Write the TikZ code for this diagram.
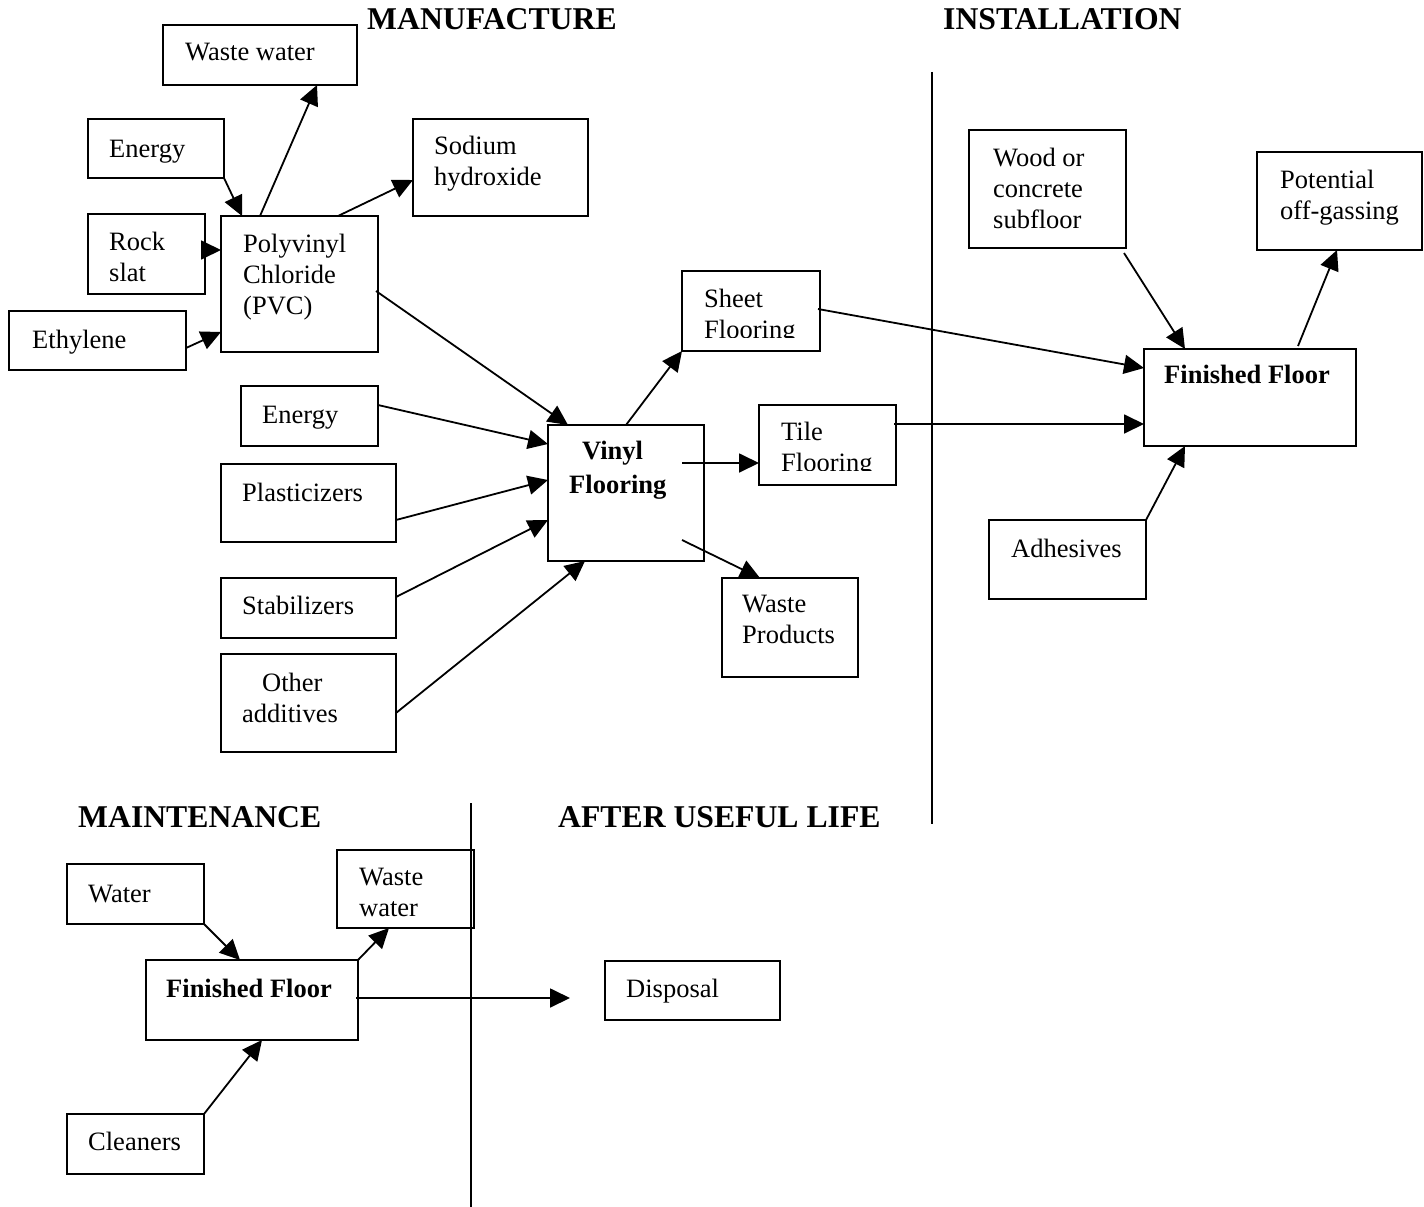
\documentclass[tikz,border=0pt]{standalone}
\usepackage{fontspec}
\setmainfont{Liberation Serif}
\usetikzlibrary{arrows.meta}
\newcommand\mybox[5]{\node[bx, minimum width={#4-#2}, minimum height={#5-#3}] (#1) at ({(#2+#4)/2},{(#3+#5)/2}) {};}
\begin{document}
\begin{tikzpicture}[x=1pt,y=-1pt,
  bx/.style={draw, line width=2pt, inner sep=0pt, outer sep=0pt},
  tx/.style={anchor=base west, inner sep=0pt, font=\fontsize{26.5}{31}\selectfont, align=left},
  btx/.style={tx, font=\fontsize{26.5}{34}\selectfont\bfseries},
  ttl/.style={anchor=base west, inner sep=0pt, font=\fontsize{31.7}{36}\selectfont\bfseries},
  arr/.style={line width=1.8pt, -{Triangle[length=20pt,width=19pt]}},
  sepline/.style={line width=1.8pt}]
\useasboundingbox (0,0) rectangle (1424,1207);

% titles
\node[ttl] (t-man) at (367,30) {MANUFACTURE};
\node[ttl] (t-ins) at (943,30) {INSTALLATION};
\node[ttl] (t-mai) at (78,827) {MAINTENANCE};
\node[ttl] (t-aft) at (558,827) {AFTER USEFUL LIFE};

% separator lines
\coordinate (s1a) at (932,72);
\coordinate (s1b) at (932,824);
\coordinate (s2a) at (471,803);
\coordinate (s2b) at (471,1207);
\draw[sepline] (s1a) -- (s1b);
\draw[sepline] (s2a) -- (s2b);

% manufacture boxes
\mybox{ww}{163}{25}{357}{85}
\mybox{en1}{88}{119}{224}{178}
\mybox{soda}{413}{119}{588}{216}
\mybox{rock}{88}{214}{205}{294}
\mybox{pvc}{221}{216}{378}{352}
\mybox{eth}{9}{311}{186}{370}
\mybox{en2}{241}{386}{378}{446}
\mybox{plast}{221}{464}{396}{542}
\mybox{stab}{221}{578}{396}{638}
\mybox{other}{221}{654}{396}{752}
\mybox{vinyl}{548}{425}{704}{561}
\mybox{sheet}{682}{271}{820}{351}
\mybox{tile}{759}{405}{896}{485}
\mybox{wp}{722}{578}{858}{677}

% multi-line texts are placed by the baseline of their last line
\node[tx] (ww-t) at (185,61) {Waste water};
\node[tx] (en1-t) at (109,157) {Energy};
\node[tx] (soda-t) at (434,185) {Sodium\\hydroxide};
\node[tx] (rock-t) at (109,281) {Rock\\slat};
\node[tx] (pvc-t) at (243,314) {Polyvinyl\\Chloride\\(PVC)};
\node[tx] (eth-t) at (32,348) {Ethylene};
\node[tx] (en2-t) at (262,423) {Energy};
\node[tx] (plast-t) at (242,501) {Plasticizers};
\node[tx] (stab-t) at (242,614) {Stabilizers};
\node[tx] (other-t) at (242,722) {\hspace*{20pt}Other\\additives};
\node[btx] (vinyl-t) at (569,493) {\hspace*{13pt}Vinyl\\Flooring};
\begin{scope}
\clip (sheet.north west) rectangle ([yshift=14pt]sheet.south east);
\node[tx] (sheet-t) at (704,338) {Sheet\\Flooring};
\end{scope}
\begin{scope}
\clip (tile.north west) rectangle ([yshift=15pt]tile.south east);
\node[tx] (tile-t) at (781,471) {Tile\\Flooring};
\end{scope}
\node[tx] (wp-t) at (742,643) {Waste\\Products};

% installation boxes
\mybox{wood}{969}{130}{1126}{248}
\mybox{pot}{1257}{152}{1422}{250}
\mybox{ff}{1144}{349}{1356}{446}
\mybox{adh}{989}{520}{1146}{599}
\node[tx] (wood-t) at (993,228) {Wood or\\concrete\\subfloor};
\node[tx] (pot-t) at (1280,219) {Potential\\off-gassing};
\node[btx] (ff-t) at (1164,383) {Finished Floor};
\node[tx] (adh-t) at (1011,557) {Adhesives};

% maintenance boxes
\mybox{water}{67}{864}{204}{924}
\mybox{ww2}{337}{850}{474}{928}
\mybox{ff2}{146}{960}{358}{1040}
\mybox{disp}{605}{961}{780}{1020}
\mybox{clean}{67}{1114}{204}{1174}
\node[tx] (water-t) at (88,902) {Water};
\node[tx] (ww2-t) at (359,916) {Waste\\water};
\node[btx] (ff2-t) at (166,997) {Finished Floor};
\node[tx] (disp-t) at (626,997) {Disposal};
\node[tx] (clean-t) at (88,1150) {Cleaners};
\coordinate (dispin) at (570,998);

% manufacture arrows
\draw[arr] ([xshift=39pt]pvc.north west) -- ([xshift=154pt]ww.south west);
\draw[arr] (en1.south east) -- ([xshift=21pt]pvc.north west);
\draw[arr] ([yshift=-36pt]rock.north east) -- ([yshift=-34pt]pvc.north west);
\draw[arr] ([yshift=-37pt]eth.north east) -- ([yshift=20pt]pvc.south west);
\draw[arr] ([xshift=117pt]pvc.north west) -- ([yshift=36pt]soda.south west);
\draw[arr] ([xshift=-2pt,yshift=-75pt]pvc.north east) -- ([xshift=20pt]vinyl.north west);
\draw[arr] ([yshift=-19pt]en2.north east) -- ([yshift=-19pt]vinyl.north west);
\draw[arr] ([yshift=22pt]plast.south east) -- ([yshift=-55pt]vinyl.north west);
\draw[arr] ([yshift=-19pt]stab.north east) -- ([yshift=-95pt]vinyl.north west);
\draw[arr] ([yshift=39pt]other.south east) -- ([xshift=37pt]vinyl.south west);
\draw[arr] ([xshift=78pt]vinyl.north west) -- (sheet.south west);
\draw[arr] ([xshift=134pt,yshift=-38pt]vinyl.north west) -- ([yshift=-58pt]tile.north west);
\draw[arr] ([xshift=134pt,yshift=21pt]vinyl.south west) -- ([xshift=38pt]wp.north west);

% installation arrows
\draw[arr] ([xshift=-2pt,yshift=-38pt]sheet.north east) -- ([yshift=-19pt]ff.north west);
\draw[arr] ([xshift=-2pt,yshift=-19pt]tile.north east) -- ([yshift=-75pt]ff.north west);
\draw[arr] ([xshift=-2pt,yshift=-5pt]wood.south east) -- ([xshift=41pt]ff.north west);
\draw[arr] ([xshift=154pt,yshift=3pt]ff.north west) -- ([xshift=80pt]pot.south west);
\draw[arr] (adh.north east) -- ([xshift=41pt]ff.south west);

% maintenance arrows
\draw[arr] (water.south east) -- ([xshift=94pt]ff2.north west);
\draw[arr] (ff2.north east) -- ([xshift=52pt]ww2.south west);
\draw[arr] (clean.north east) -- ([xshift=116pt]ff2.south west);
\draw[arr] ([xshift=-2pt,yshift=-38pt]ff2.north east) -- (dispin);
\end{tikzpicture}
\end{document}
